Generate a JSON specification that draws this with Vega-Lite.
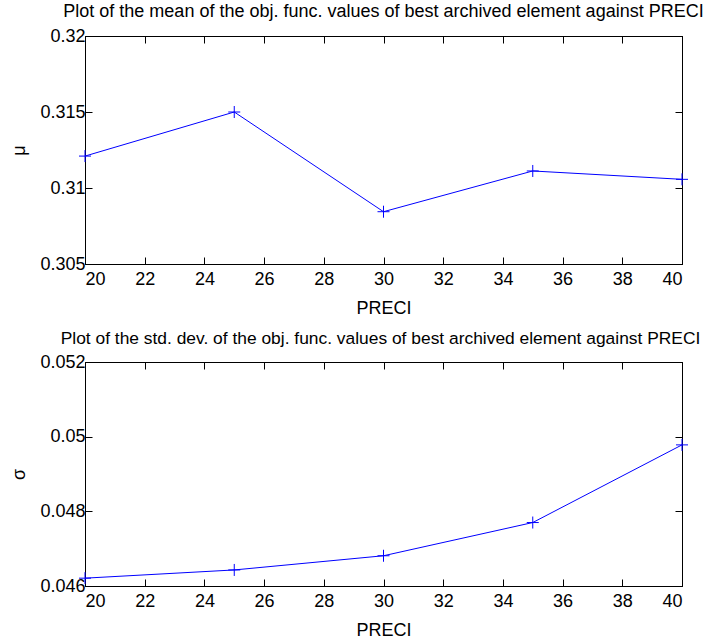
{
  "$schema": "https://vega.github.io/schema/vega-lite/v6.json",
  "background": "white",
  "padding": {"left": 10, "top": 2, "right": 0, "bottom": 0},
  "spacing": 11,
  "datasets": {
    "d": [
      {"PRECI": 20, "mean": 0.3121, "std": 0.04621},
      {"PRECI": 25, "mean": 0.3150, "std": 0.04643},
      {"PRECI": 30, "mean": 0.30844, "std": 0.04681},
      {"PRECI": 35, "mean": 0.31112, "std": 0.04770},
      {"PRECI": 40, "mean": 0.31057, "std": 0.04978}
    ]
  },
  "config": {
    "font": "Liberation Sans",
    "view": {"stroke": "black", "strokeWidth": 1},
    "axis": {
      "grid": false,
      "domainColor": "black",
      "tickColor": "black",
      "tickSize": -7,
      "labelColor": "black",
      "titleColor": "black",
      "labelFontSize": 18,
      "titleFontSize": 18,
      "titleFontWeight": "normal"
    },
    "title": {"fontSize": 18, "fontWeight": "normal", "color": "black", "offset": 6}
  },
  "vconcat": [
    {
      "width": 597,
      "height": 228,
      "data": {"name": "d"},
      "title": "Plot of the mean of the obj. func. values of best archived element against PRECI",
      "layer": [
        {
          "mark": {"type": "line", "color": "#0000ff", "strokeWidth": 1},
          "encoding": {
            "x": {"field": "PRECI", "type": "quantitative", "scale": {"domain": [20, 40], "nice": false}, "axis": {"orient": "bottom", "values": [20,22,24,26,28,30,32,34,36,38,40], "title": "PRECI", "labelPadding": 13, "titlePadding": 11}},
            "y": {"field": "mean", "type": "quantitative", "scale": {"domain": [0.305, 0.32], "nice": false, "zero": false}, "axis": {"orient": "left", "values": [0.305, 0.31, 0.315, 0.32], "format": ".3~f", "title": "μ", "labelPadding": 7, "titlePadding": 11}}
          }
        },
        {
          "mark": {"type": "point", "shape": "M-1,0L1,0M0,-1L0,1", "size": 144, "filled": false, "color": "#0000ff", "strokeWidth": 1, "opacity": 1},
          "encoding": {
            "x": {"field": "PRECI", "type": "quantitative", "scale": {"domain": [20, 40], "nice": false}, "axis": {"orient": "top", "values": [20,22,24,26,28,30,32,34,36,38,40], "labels": false, "title": null}},
            "y": {"field": "mean", "type": "quantitative", "scale": {"domain": [0.305, 0.32], "nice": false, "zero": false}, "axis": {"orient": "right", "values": [0.305, 0.31, 0.315, 0.32], "labels": false, "title": null}}
          }
        }
      ],
      "resolve": {"axis": {"x": "independent", "y": "independent"}}
    },
    {
      "width": 597,
      "height": 224,
      "data": {"name": "d"},
      "title": {"text": "Plot of the std. dev. of the obj. func. values of best archived element against PRECI", "fontSize": 17.4, "dx": -3},
      "layer": [
        {
          "mark": {"type": "line", "color": "#0000ff", "strokeWidth": 1},
          "encoding": {
            "x": {"field": "PRECI", "type": "quantitative", "scale": {"domain": [20, 40], "nice": false}, "axis": {"orient": "bottom", "values": [20,22,24,26,28,30,32,34,36,38,40], "title": "PRECI", "labelPadding": 13, "titlePadding": 11}},
            "y": {"field": "std", "type": "quantitative", "scale": {"domain": [0.046, 0.052], "nice": false, "zero": false}, "axis": {"orient": "left", "values": [0.046, 0.048, 0.05, 0.052], "format": ".3~f", "title": "σ", "labelPadding": 7, "titlePadding": 11}}
          }
        },
        {
          "mark": {"type": "point", "shape": "M-1,0L1,0M0,-1L0,1", "size": 144, "filled": false, "color": "#0000ff", "strokeWidth": 1, "opacity": 1},
          "encoding": {
            "x": {"field": "PRECI", "type": "quantitative", "scale": {"domain": [20, 40], "nice": false}, "axis": {"orient": "top", "values": [20,22,24,26,28,30,32,34,36,38,40], "labels": false, "title": null}},
            "y": {"field": "std", "type": "quantitative", "scale": {"domain": [0.046, 0.052], "nice": false, "zero": false}, "axis": {"orient": "right", "values": [0.046, 0.048, 0.05, 0.052], "labels": false, "title": null}}
          }
        }
      ],
      "resolve": {"axis": {"x": "independent", "y": "independent"}}
    }
  ]
}
